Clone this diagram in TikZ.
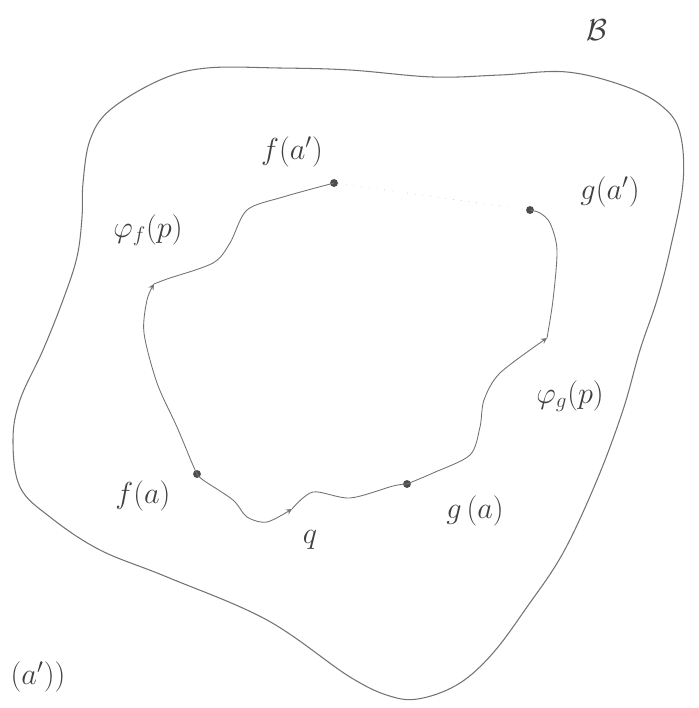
\documentclass[tikz,border=0pt]{standalone}
\usepackage{amsmath,amssymb}
\usetikzlibrary{positioning,arrows}

\begin{document}
\begin{tikzpicture}[
  x=0.02cm,y=-0.02cm,
  pencil/.style={draw=black!55,line width=0.5pt},
  mor/.style={pencil,->,>=stealth},
  pt/.style={circle,fill=black!70,inner sep=0pt,minimum size=4.5pt},
  lbl/.style={font=\LARGE,text=black!75,inner sep=1pt},
]
\useasboundingbox (0,0) rectangle (699,708);

% === Region B ===
\draw[pencil,line width=0.6pt] plot[smooth cycle,tension=0.6] coordinates {
  (350,70) (433,77) (500,75) (567,72) (627,87) (663,107) (680,133) (683,183)
  (670,250) (657,300) (640,350) (623,410) (597,480) (563,553) (527,607)
  (493,653) (460,683) (423,698) (393,697) (350,677) (267,620) (167,577)
  (100,550) (50,517) (20,487) (13,440) (20,400) (43,350) (63,300) (77,257)
  (82,217) (83,183) (90,140) (110,110) (160,80) (207,68) (280,68)};
\node[lbl] (B) at (597,30) {$\mathcal{B}$};

% === Points ===
\node[pt] (fa) at (197,474) {};
\node[pt] (ga) at (407,484) {};
\node[pt] (fap) at (334,183) {};
\node[pt] (gap) at (530,210) {};

\coordinate (qtip) at (292,509);
\coordinate (ftip) at (154,284);
\coordinate (gtip) at (547,338);

% === Paths ===
\draw[mor] plot[smooth] coordinates {(fa.center) (203,480) (233,500) (247,517)
  (267,522) (qtip)};
\draw[pencil] plot[smooth] coordinates {(qtip) (313,492) (350,498) (393,486)
  (ga.center)};

\draw[mor] plot[smooth] coordinates {(fa.center) (192,463) (177,427) (157,383)
  (144,333) (147,300) (ftip)};
\draw[pencil] plot[smooth] coordinates {(ftip) (167,279) (213,263) (230,243)
  (247,210) (283,197) (fap.center)};

\draw[mor] plot[smooth] coordinates {(ga.center) (433,473) (470,455) (480,427)
  (484,400) (500,373) (gtip)};
\draw[pencil] plot[smooth] coordinates {(gtip) (553,300) (557,250) (550,223)
  (540,213) (gap.center)};

% faint trace between the end points
\draw[black!20,loosely dotted] (fap) -- (gap);

% === Labels ===
\node[lbl] (fal) at (143,496) {$f(a)$};
\node[lbl] (gal) at (475,511) {$g\,(a)$};
\node[lbl] (fapl) at (292,152) {$f(a')$};
\node[lbl] (gapl) at (610,192) {$g(a')$};
\node[lbl] (phif) at (148,230) {$\varphi_f(p)$};
\node[lbl] (phig) at (570,396) {$\varphi_g(p)$};
\node[lbl] (ql) at (310,540) {$q$};
\node[lbl] (rest) at (38,677) {$(a'))$};

\end{tikzpicture}
\end{document}
